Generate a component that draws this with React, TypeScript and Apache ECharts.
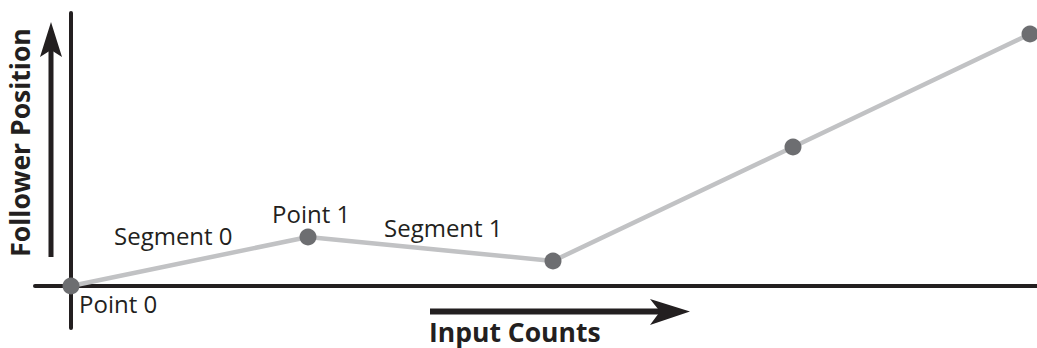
import React, { useEffect, useRef } from "react";
import * as echarts from "echarts";

// Data (arbitrary units, origin at Point 0)
const inputCounts = [0, 237, 482, 722, 959];
const followerPositions = [0, 49, 25, 139, 252];
const pointLabels = ["Point 0", "Point 1", "", "", ""];
const segmentLabels = ["Segment 0", "Segment 1"];
const xAxisTitle = "Input Counts";
const yAxisTitle = "Follower Position";

const INK = "#231f20";
const FONT = "'Open Sans', 'Noto Sans', sans-serif";

export default function App() {
  const ref = useRef<HTMLDivElement>(null);
  useEffect(() => {
    if (!ref.current) return;
    const chart = echarts.init(ref.current, null, { renderer: "svg" });
    const data = inputCounts.map((x, i) => [x, followerPositions[i]]);
    const textStyle = (text: string, size: number, weight: string) => ({
      text,
      fill: INK,
      font: `${weight} ${size}px ${FONT}`,
    });
    chart.setOption({
      animation: false,
      grid: { left: 35, right: 0, top: 13, bottom: 20, containLabel: false },
      xAxis: {
        type: "value",
        min: -36,
        max: 966,
        axisLine: { show: true, onZero: true, lineStyle: { color: INK, width: 4 } },
        axisTick: { show: false },
        axisLabel: { show: false },
        splitLine: { show: false },
      },
      yAxis: {
        type: "value",
        min: -42,
        max: 273,
        axisLine: { show: true, onZero: true, lineStyle: { color: INK, width: 4 } },
        axisTick: { show: false },
        axisLabel: { show: false },
        splitLine: { show: false },
      },
      series: [
        {
          type: "line",
          data,
          symbol: "circle",
          symbolSize: 17,
          showAllSymbol: true,
          clip: false,
          z: 5,
          lineStyle: { color: "#c1c2c4", width: 4.5 },
          itemStyle: { color: "#6d6e71" },
          label: { show: false },
        },
      ],
      graphic: [
        // vertical arrow
        { type: "line", shape: { x1: 51, y1: 257, x2: 51, y2: 48 }, style: { stroke: INK, lineWidth: 5 } },
        { type: "polygon", shape: { points: [[51, 22], [62, 57], [51, 50], [40, 57]] }, style: { fill: INK } },
        // horizontal arrow
        { type: "line", shape: { x1: 430, y1: 311.5, x2: 665, y2: 311.5 }, style: { stroke: INK, lineWidth: 6 } },
        { type: "polygon", shape: { points: [[690, 311.5], [650, 299], [660, 311.5], [650, 325]] }, style: { fill: INK } },
        // labels
        { type: "text", x: 79, y: 303.5, style: { ...textStyle(pointLabels[0], 24, "normal"), verticalAlign: "middle", align: "left" } },
        { type: "text", x: 272, y: 213.5, style: { ...textStyle(pointLabels[1], 24, "normal"), verticalAlign: "middle", align: "left" } },
        { type: "text", x: 114, y: 235.5, style: { ...textStyle(segmentLabels[0], 24, "normal"), verticalAlign: "middle", align: "left" } },
        { type: "text", x: 384, y: 227.5, style: { ...textStyle(segmentLabels[1], 24, "normal"), verticalAlign: "middle", align: "left" } },
        { type: "text", x: 429, y: 332, style: { ...textStyle(xAxisTitle, 26.5, "bold"), verticalAlign: "middle", align: "left" } },
        {
          type: "text",
          x: 20,
          y: 142.5,
          rotation: Math.PI / 2,
          style: { ...textStyle(yAxisTitle, 26.5, "bold"), verticalAlign: "middle", align: "center" },
        },
      ],
    });
    return () => chart.dispose();
  }, []);
  return (
    <div
      ref={ref}
      style={{ position: "fixed", left: 0, top: 0, width: 1037, height: 348, background: "#fff" }}
    />
  );
}
